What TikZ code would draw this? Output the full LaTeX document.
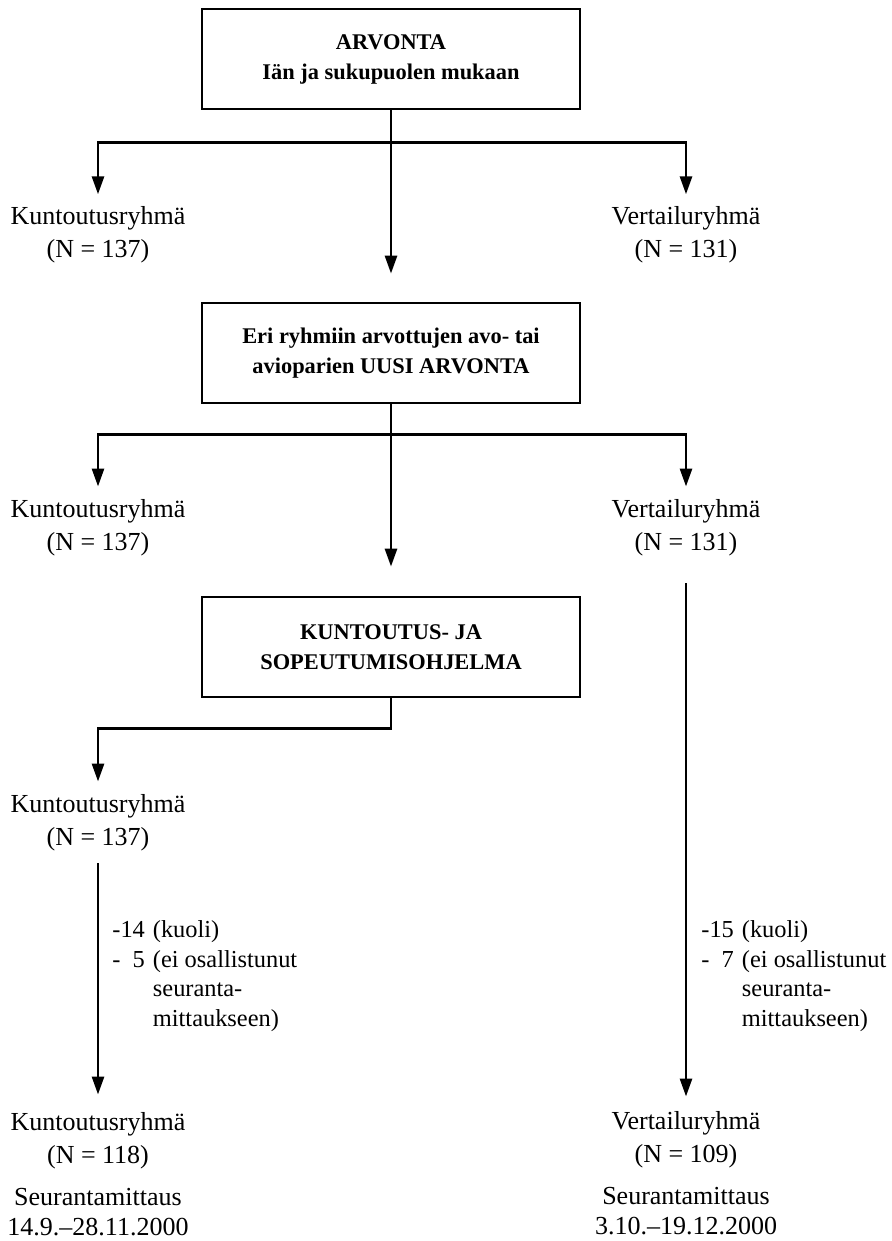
\documentclass[tikz,border=0pt]{standalone}
\usepackage{fontspec}
\setmainfont{Liberation Serif}
\usetikzlibrary{arrows.meta,calc}

\begin{document}
\begin{tikzpicture}[
  x=0.5pt, y=-0.5pt,
  box/.style={draw, line width=1.4pt, minimum width=189pt, minimum height=50pt,
    inner sep=0pt, align=center, font=\bfseries\fontsize{11.2}{15}\selectfont},
  grp/.style={inner sep=0pt, align=center, font=\fontsize{13}{16.5}\selectfont},
  follow/.style={inner sep=0pt, align=center, font=\fontsize{13}{15}\selectfont},
  note/.style={inner sep=0pt, anchor=north west, font=\fontsize{12.2}{14.7}\selectfont},
  link/.style={line width=1.4pt},
  arr/.style={link, -{Triangle[length=9pt,width=6pt]}},
]
\useasboundingbox (0,0) rectangle (891,1241);
\def\xL{98}
\def\xM{391}
\def\xR{686}
% boxes
\node[box] (arvonta) at (\xM,59) {ARVONTA\\Iän ja sukupuolen mukaan};
\node[box] (uusi) at (\xM,353) {Eri ryhmiin arvottujen avo- tai\\avioparien UUSI ARVONTA};
\node[box] (ohjelma) at (\xM,647) {KUNTOUTUS- JA\\SOPEUTUMISOHJELMA};
% groups
\foreach \nm/\xx/\yy/\grp/\nn in {%
  kt1/\xL/235/Kuntoutusryhmä/137,
  vr1/\xR/235/Vertailuryhmä/131,
  kt2/\xL/528/Kuntoutusryhmä/137,
  vr2/\xR/528/Vertailuryhmä/131,
  kt3/\xL/823/Kuntoutusryhmä/137,
  kt4/\xL/1141/Kuntoutusryhmä/118,
  vr4/\xR/1140/Vertailuryhmä/109%
} {
  \node[grp] (\nm) at (\xx,\yy) {\grp\\(N = \nn)};
}
\node[follow] (sm1) at (\xL,1212) {Seurantamittaus\\14.9.–28.11.2000};
\node[follow] (sm2) at (\xR,1211) {Seurantamittaus\\3.10.–19.12.2000};
% drop-outs
\node[note] (drop1) at (112,917) {\begin{tabular}{@{}l@{\hspace{4pt}}l@{}}
  -14 & (kuoli)\\
  -\phantom{1}5 & (ei osallistunut\\
  & seuranta-\\
  & mittaukseen)
\end{tabular}};
\node[note] (drop2) at (701,917) {\begin{tabular}{@{}l@{\hspace{4pt}}l@{}}
  -15 & (kuoli)\\
  -\phantom{1}7 & (ei osallistunut\\
  & seuranta-\\
  & mittaukseen)
\end{tabular}};
% connectors
\coordinate (j1) at ($(arvonta.south)+(0,32)$);
\coordinate (j2) at ($(uusi.south)+(0,30)$);
\coordinate (j3) at ($(ohjelma.south)+(0,30)$);
\draw[arr, shorten >=14pt] (arvonta) -- (uusi);
\draw[arr, shorten >=6pt] (j1) -- (j1 -| kt1) -- (kt1);
\draw[arr, shorten >=6pt] (j1) -- (j1 -| vr1) -- (vr1);
\draw[arr, shorten >=14.5pt] (uusi) -- (ohjelma);
\draw[arr, shorten >=6.4pt] (j2) -- (j2 -| kt2) -- (kt2);
\draw[arr, shorten >=6.4pt] (j2) -- (j2 -| vr2) -- (vr2);
\draw[arr, shorten >=6.4pt] (ohjelma) -- (j3) -- (j3 -| kt3) -- (kt3);
\draw[arr, shorten <=5.9pt, shorten >=8.9pt] (kt3) -- (kt4);
\draw[arr, shorten <=13.4pt, shorten >=7.4pt] (vr2) -- (vr4);
\end{tikzpicture}
\end{document}
